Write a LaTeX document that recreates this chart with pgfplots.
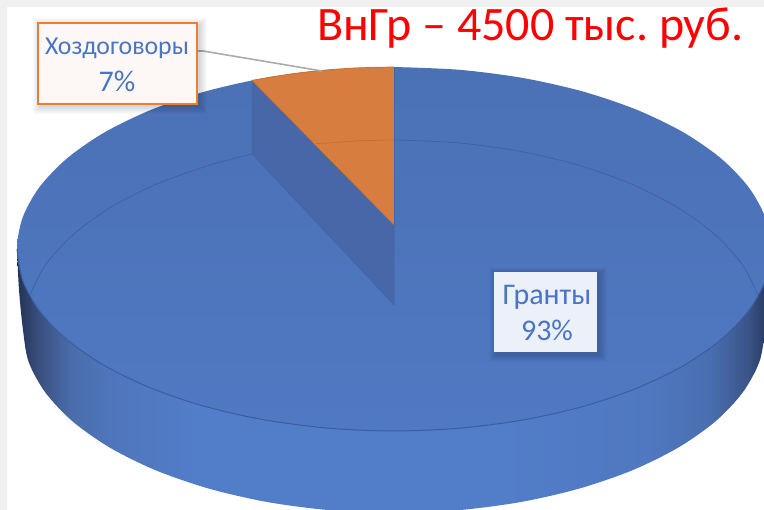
\documentclass[border=0pt]{standalone}
\usepackage{pgfplots}
\pgfplotsset{compat=1.18}
\usepackage{fontspec}
\setmainfont{Carlito}
\definecolor{lbl}{HTML}{4A74C4}
\definecolor{edgeb}{HTML}{3A5E9F}
\definecolor{wa}{HTML}{223355}
\definecolor{wb}{HTML}{3A5080}
\definecolor{wc}{HTML}{4A6CAA}
\definecolor{wd}{HTML}{4F76BC}
\definecolor{we}{HTML}{527DC8}
\definecolor{wf}{HTML}{4F78C0}
\definecolor{wg}{HTML}{4A6EB0}
\definecolor{wh}{HTML}{3A5488}
\definecolor{wfa}{HTML}{4B71B5}
\definecolor{wfb}{HTML}{5079C3}
\definecolor{cutc}{HTML}{4867A8}
\definecolor{cutl}{HTML}{3F66AE}
\definecolor{orc}{HTML}{D77D3F}
\definecolor{orl}{HTML}{C96E28}
\definecolor{orb}{HTML}{ED7D31}
\definecolor{lbox}{HTML}{FDF8F5}
\definecolor{lbtwo}{HTML}{ECF0F8}
\pgfdeclarehorizontalshading{wallshade}{100bp}{
 color(0bp)=(wa);
 color(25bp)=(wa);
 color(26.5bp)=(wb);
 color(28.5bp)=(wc);
 color(31.2bp)=(wd);
 color(37bp)=(we);
 color(57bp)=(we);
 color(67bp)=(wf);
 color(71bp)=(wg);
 color(73.5bp)=(wh);
 color(75bp)=(wa);
 color(100bp)=(wa)}
\begin{document}
\frenchspacing
\begin{tikzpicture}
\begin{axis}[
  scale only axis, width=764pt, height=510pt,
  xmin=0, xmax=764, ymin=0, ymax=510, y dir=reverse,
  hide axis, clip=true,
]
% page margins
\addplot[fill=white, draw=none, forget plot] coordinates {(0,0)(764,0)(764,510)(0,510)} --cycle;
\addplot[fill=black!6, draw=none, forget plot] coordinates {(0,0)(764,0)(764,7)(7,7)(7,510)(0,510)} --cycle;
% side wall
\addplot[draw=none, shade, shading=wallshade, smooth, forget plot] coordinates {
 (17,249)(19,290)(23,330)(28.6,361.8)(45.4,392.6)(72.7,421.5)(109.8,447.6)(155.5,470.2)(208.5,488.5)(267.1,502)(329.6,510.2)(394,513)
 (458.4,510.2)(520.9,502)(579.5,488.5)(632.5,470.2)(678.2,447.6)(715.3,421.5)(742.6,392.6)(759.4,361.8)(765,330)(769,290)(771,249)} --cycle;
% top face (Гранты 93 %)
\addplot[draw=none, shade, top color=wfa, bottom color=wfb, smooth, forget plot] coordinates {
 (394,67)(328.6,69.8)(265.1,78)(205.5,91.4)(151.7,109.6)(105.2,132)(67.5,158)(39.7,186.8)(22.7,217.4)(17,249)
 (22.7,280.6)(39.7,311.2)(67.5,340)(105.2,366)(151.7,388.4)(205.5,406.6)(265.1,420)(328.6,428.2)(394,431)
 (459.4,428.2)(522.9,420)(582.5,406.6)(636.3,388.4)(682.8,366)(720.5,340)(748.3,311.2)(765.3,280.6)(771,249)
 (765.3,217.4)(748.3,186.8)(720.5,158)(682.8,132)(636.3,109.6)(582.5,91.4)(522.9,78)(459.4,69.8)(394,67)} --cycle;
% front rim of top face
\addplot[draw=edgeb, line width=1pt, smooth, forget plot] coordinates {
 (17,249)(22.7,280.6)(39.7,311.2)(67.5,340)(105.2,366)(151.7,388.4)(205.5,406.6)(265.1,420)(328.6,428.2)(394,431)
 (459.4,428.2)(522.9,420)(582.5,406.6)(636.3,388.4)(682.8,366)(720.5,340)(748.3,311.2)(765.3,280.6)(771,249)};
% hidden lower rim seen through the face
\addplot[draw=edgeb!80!wfa, line width=.7pt, smooth, forget plot] coordinates {
 (30,295)(45.4,265)(72.7,235)(109.8,207.9)(155.5,184.5)(208.5,165.5)(252,154)};
\addplot[draw=edgeb!80!wfa, line width=.7pt, smooth, forget plot] coordinates {
 (394,140)(458.4,142.9)(520.9,151.5)(579.5,165.5)(632.5,184.5)(678.2,207.9)(715.3,235)(742.6,265)(758,295)};
% cut wall of the slice
\addplot[fill=cutc, draw=cutl, line width=.5pt, forget plot] coordinates {(252,80)(252,154)(394,305)(394,225)} --cycle;
% Хоздоговоры 7 %
\addplot[fill=orc, draw=none, forget plot] coordinates {
 (394,225)(394,67)(374,67.3)(354,68)(334,69.3)(314,71.1)(294,73.5)(274,76.5)(252,80.4)} --cycle;
\addplot[draw=orl, line width=.7pt, smooth, forget plot] coordinates {(316,143.6)(329.6,142.9)(360,140.8)(394,140)};
\addplot[draw=orl, line width=.7pt, forget plot] coordinates {(252,80.4)(274,76.5)(294,73.5)(314,71.1)(334,69.3)(354,68)(374,67.3)(394,67)};
\addplot[draw=orl, line width=.5pt, forget plot] coordinates {(252,80.4)(394,225)};
\addplot[draw=cutl, line width=.8pt, forget plot] coordinates {(394,67)(394,225)};
% leader
\addplot[draw=black!33, line width=1.6pt, forget plot] coordinates {(197,51)(203,51)(322,71)};
% label shadows
\pgfplotsinvokeforeach{1,2,3,4,5,6,7,8}{
 \fill[black,opacity=.018] (axis cs:{41-#1},{26-#1}) rectangle (axis cs:{199+#1},{106+#1});
 \fill[black,opacity=.018] (axis cs:{497-#1},{275-#1}) rectangle (axis cs:{599+#1},{354+#1});
}
\fill[fill=lbox, draw=orb, line width=1.6pt] (axis cs:38,23) rectangle (axis cs:197,104);
\fill[fill=lbtwo, draw=none] (axis cs:494,272) rectangle (axis cs:597,352);
\node[text=lbl, font=\fontsize{25.8}{29}\selectfont, anchor=base, inner sep=0pt] at (axis cs:117,55) {Хоздоговоры};
\node[text=lbl, font=\fontsize{30}{34}\selectfont, anchor=base, inner sep=0pt] at (axis cs:117,92) {7\%};
\node[text=lbl, font=\fontsize{30}{34}\selectfont, anchor=base, inner sep=0pt] at (axis cs:547,305) {Гранты};
\node[text=lbl, font=\fontsize{30}{34}\selectfont, anchor=base, inner sep=0pt] at (axis cs:547,341) {93\%};
\node[text=red, font=\fontsize{48}{52}\selectfont, anchor=base west, inner sep=0pt] at (axis cs:317,41) {ВнГр – 4500 тыс. руб.};
\end{axis}
\end{tikzpicture}
\end{document}
